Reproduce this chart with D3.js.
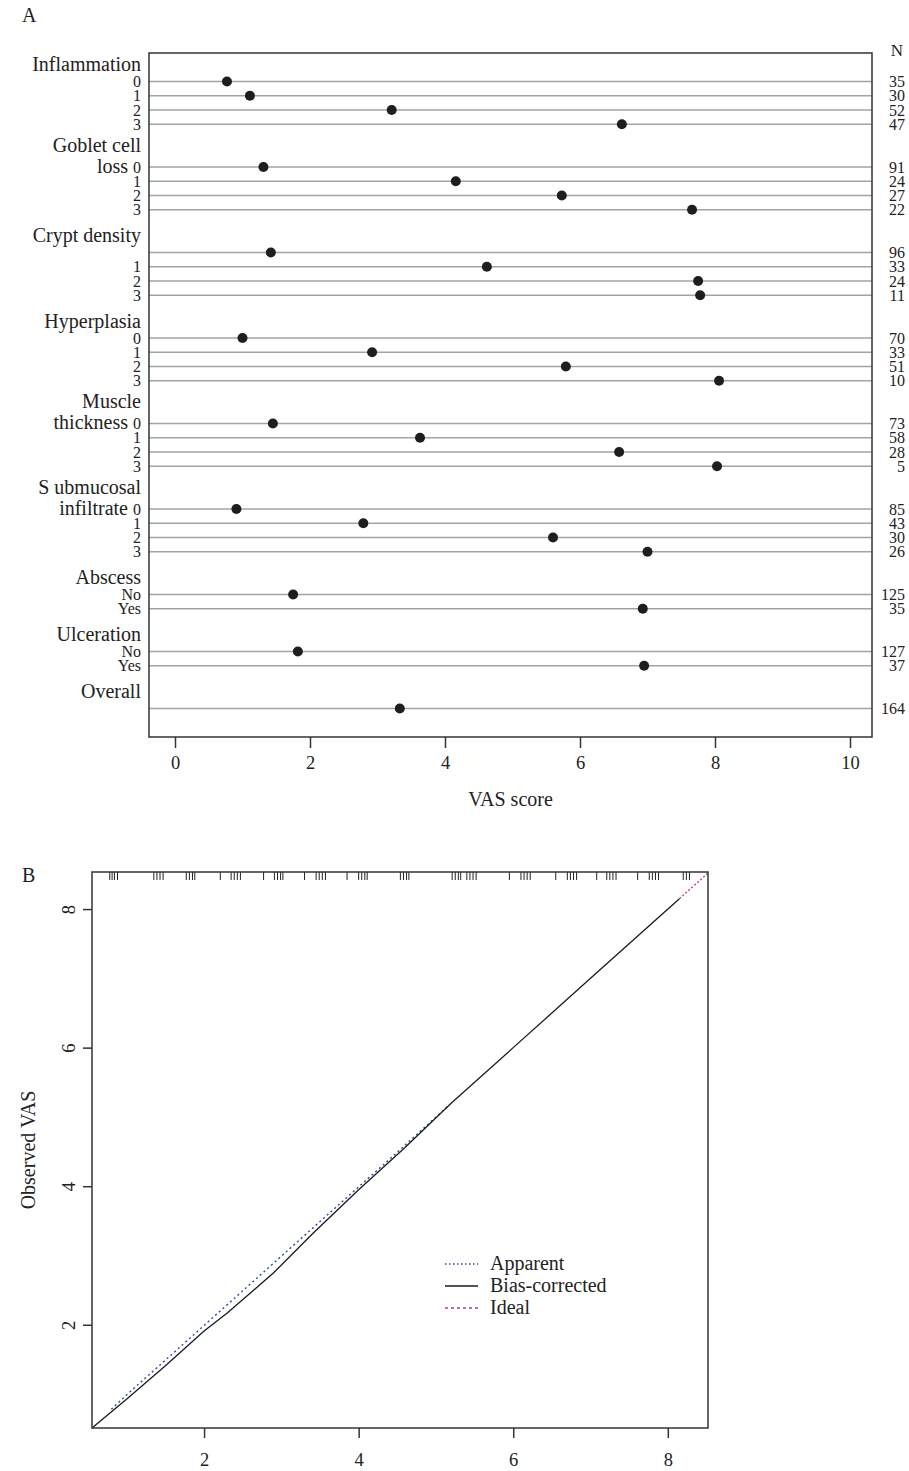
<!DOCTYPE html>
<html>
<head>
<meta charset="utf-8">
<script src="https://cdn.jsdelivr.net/npm/d3@7"></script>
<style>
  body { margin: 0; background: #fff; }
  svg { display: block; font-family: "Liberation Serif", "DejaVu Serif", serif; }
  text { fill: #222; }
</style>
</head>
<body>
<div id="chart"></div>
<script>
const width = 909;
const height = 1471;

// panel A data
const groupHeaders = [["Inflammation"], ["Goblet cell", "loss"], ["Crypt density"], ["Hyperplasia"],
  ["Muscle", "thickness"], ["S ubmucosal", "infiltrate"], ["Abscess"], ["Ulceration"], ["Overall"]];
// crypt density level 0 has no label in the original
const groupLevels = [["0", "1", "2", "3"], ["0", "1", "2", "3"], ["", "1", "2", "3"], ["0", "1", "2", "3"],
  ["0", "1", "2", "3"], ["0", "1", "2", "3"], ["No", "Yes"], ["No", "Yes"], [""]];
const meanVAS = [[0.77, 1.11, 3.21, 6.62], [1.31, 4.16, 5.73, 7.66], [1.42, 4.62, 7.75, 7.78],
  [1.0, 2.92, 5.79, 8.06], [1.45, 3.63, 6.58, 8.03], [0.91, 2.79, 5.6, 7.0],
  [1.75, 6.93], [1.82, 6.95], [3.33]];
const groupN = [[35, 30, 52, 47], [91, 24, 27, 22], [96, 33, 24, 11], [70, 33, 51, 10],
  [73, 58, 28, 5], [85, 43, 30, 26], [125, 35], [127, 37], [164]];
const vasTicks = [0, 2, 4, 6, 8, 10];

// panel B data
const apparentX = [0.8, 1.0, 1.5, 2.0, 2.5, 3.0, 3.5, 4.0, 4.5, 5.15];
const apparentY = [0.78, 0.99, 1.49, 1.99, 2.49, 2.99, 3.49, 3.99, 4.49, 5.15];
const biasX = [0.55, 1.0, 1.5, 2.0, 2.3, 2.9, 3.4, 4.0, 4.6, 5.2, 6.0, 7.0, 8.15];
const biasY = [0.51, 0.93, 1.41, 1.91, 2.17, 2.75, 3.31, 3.95, 4.56, 5.2, 6.0, 7.0, 8.15];
// only the top end of the ideal line shows past the other curves
const idealX = [8.15, 8.52];
const idealY = [8.15, 8.52];
const rugValues = [0.78, 0.81, 0.84, 0.88, 1.35, 1.39, 1.43, 1.47, 1.77, 1.81, 1.85, 1.88,
  2.21, 2.35, 2.39, 2.43, 2.47, 2.77, 2.91, 2.95, 2.99, 3.02, 3.30, 3.45, 3.49, 3.53, 3.57,
  3.85, 4.0, 4.04, 4.08, 4.11, 4.54, 4.58, 4.62, 4.65, 5.21, 5.25, 5.29, 5.32,
  5.40, 5.44, 5.48, 5.52, 5.95, 6.10, 6.14, 6.18, 6.22, 6.55, 6.70, 6.74, 6.78, 6.82,
  7.08, 7.21, 7.25, 7.29, 7.33, 7.61, 7.76, 7.80, 7.84, 7.88, 8.2, 8.24, 8.28];
const calTicks = [2, 4, 6, 8];
const legendLabels = ["Apparent", "Bias-corrected", "Ideal"];

const svg = d3.select("#chart").append("svg")
  .attr("width", width)
  .attr("height", height);

// ---------- panel A ----------
const boxA = {left: 149, right: 872, top: 53, bottom: 737};

// give each row a slot: header, levels, blank
let slot = 0;
const rows = [];
const headers = [];
groupHeaders.forEach((h, g) => {
  headers.push({lines: h, slot: slot, g: g});
  slot++;
  groupLevels[g].forEach((lev, i) => {
    rows.push({g: g, i: i, label: lev, value: meanVAS[g][i], n: groupN[g][i], slot: slot});
    slot++;
  });
  slot++;
});

const xA = d3.scaleLinear().domain([0, 10]).range([175, 850]);
const yA = d3.scaleLinear().domain([-1, 47]).range([boxA.top, boxA.bottom]);

svg.append("text").attr("x", 22).attr("y", 22).attr("font-size", 20).text("A");

const panelA = svg.append("g");

panelA.selectAll(".row-line")
  .data(rows)
  .enter()
  .append("line")
  .attr("x1", boxA.left).attr("x2", boxA.right)
  .attr("y1", d => yA(d.slot)).attr("y2", d => yA(d.slot))
  .attr("stroke", "#a3a3a3")
  .attr("stroke-width", 1.5);

panelA.selectAll(".dot")
  .data(rows)
  .enter()
  .append("circle")
  .attr("cx", d => xA(d.value))
  .attr("cy", d => yA(d.slot))
  .attr("r", 5)
  .attr("fill", "#1e1e1e");

// headers (single line, or first line of two)
panelA.selectAll(".header")
  .data(headers)
  .enter()
  .append("text")
  .attr("x", 141)
  .attr("y", d => d.lines.length > 1 ? yA(d.slot) - 1 : yA(d.slot) + 4)
  .attr("text-anchor", "end")
  .attr("font-size", 20)
  .text(d => d.lines[0]);

// level labels, with second header line in front of the first level
const levelText = panelA.selectAll(".level")
  .data(rows)
  .enter()
  .append("text")
  .attr("x", 141)
  .attr("y", d => yA(d.slot) + 5.5)
  .attr("text-anchor", "end");
levelText.append("tspan")
  .attr("font-size", 20)
  .text(d => (d.i === 0 && groupHeaders[d.g].length > 1) ? groupHeaders[d.g][1] + " " : "");
levelText.append("tspan")
  .attr("font-size", 16)
  .text(d => d.label);

// N column
svg.append("text").attr("x", 897).attr("y", 56).attr("font-size", 17)
  .attr("text-anchor", "middle").text("N");
panelA.selectAll(".n")
  .data(rows)
  .enter()
  .append("text")
  .attr("x", 905)
  .attr("y", d => yA(d.slot) + 5.5)
  .attr("text-anchor", "end")
  .attr("font-size", 16)
  .text(d => d.n);

panelA.append("rect")
  .attr("x", boxA.left).attr("y", boxA.top)
  .attr("width", boxA.right - boxA.left).attr("height", boxA.bottom - boxA.top)
  .attr("fill", "none").attr("stroke", "#333").attr("stroke-width", 1.5);

const xAxisA = d3.axisBottom(xA).tickValues(vasTicks).tickSize(11).tickPadding(8);
const gxA = panelA.append("g")
  .attr("transform", `translate(0, ${boxA.bottom})`)
  .call(xAxisA);
gxA.select(".domain").remove();
gxA.selectAll("line").attr("stroke", "#333").attr("stroke-width", 1.5);
gxA.selectAll("text").attr("font-size", 18.5).attr("font-family", "Liberation Serif").attr("fill", "#222");

svg.append("text")
  .attr("x", (boxA.left + boxA.right) / 2).attr("y", 806)
  .attr("text-anchor", "middle").attr("font-size", 20)
  .text("VAS score");

// ---------- panel B ----------
const boxB = {left: 92, right: 708, top: 872, bottom: 1428};
const xB = d3.scaleLinear().domain([0.55, 8.52]).range([boxB.left, boxB.right]);
const yB = d3.scaleLinear().domain([0.51, 8.535]).range([boxB.bottom, boxB.top]);

svg.append("text").attr("x", 22).attr("y", 882).attr("font-size", 20).text("B");

const panelB = svg.append("g");

const line = d3.line().x(d => xB(d[0])).y(d => yB(d[1]));

panelB.append("path")
  .datum(idealX.map((v, i) => [v, idealY[i]]))
  .attr("d", line)
  .attr("fill", "none")
  .attr("stroke", "#b03a8c")
  .attr("stroke-width", 1.3)
  .attr("stroke-dasharray", "2,2");

panelB.append("path")
  .datum(apparentX.map((v, i) => [v, apparentY[i]]))
  .attr("d", line)
  .attr("fill", "none")
  .attr("stroke", "#22509a")
  .attr("stroke-width", 1.4)
  .attr("stroke-dasharray", "2,3");

panelB.append("path")
  .datum(biasX.map((v, i) => [v, biasY[i]]))
  .attr("d", line)
  .attr("fill", "none")
  .attr("stroke", "#1a1a1a")
  .attr("stroke-width", 1.3);

panelB.selectAll(".rug")
  .data(rugValues)
  .enter()
  .append("line")
  .attr("x1", d => xB(d)).attr("x2", d => xB(d))
  .attr("y1", boxB.top).attr("y2", boxB.top + 8)
  .attr("stroke", "#222")
  .attr("stroke-width", 1);

panelB.append("rect")
  .attr("x", boxB.left).attr("y", boxB.top)
  .attr("width", boxB.right - boxB.left).attr("height", boxB.bottom - boxB.top)
  .attr("fill", "none").attr("stroke", "#333").attr("stroke-width", 1.5);

const gxB = panelB.append("g")
  .attr("transform", `translate(0, ${boxB.bottom})`)
  .call(d3.axisBottom(xB).tickValues(calTicks).tickSize(10).tickPadding(15));
gxB.select(".domain").remove();
gxB.selectAll("line").attr("stroke", "#333").attr("stroke-width", 1.5);
gxB.selectAll("text").attr("font-size", 18.5).attr("font-family", "Liberation Serif").attr("fill", "#222");

const gyB = panelB.append("g")
  .attr("transform", `translate(${boxB.left}, 0)`)
  .call(d3.axisLeft(yB).tickValues(calTicks).tickSize(9));
gyB.select(".domain").remove();
gyB.selectAll("line").attr("stroke", "#333").attr("stroke-width", 1.5);
gyB.selectAll("text")
  .attr("x", null).attr("dy", null)
  .attr("text-anchor", "middle")
  .attr("transform", "translate(-17,0) rotate(-90)")
  .attr("font-size", 18.5).attr("font-family", "Liberation Serif").attr("fill", "#222");

svg.append("text")
  .attr("transform", `translate(35, ${(boxB.top + boxB.bottom) / 2}) rotate(-90)`)
  .attr("text-anchor", "middle").attr("font-size", 20)
  .text("Observed VAS");

// legend
const legendStyles = [
  {stroke: "#22509a", dash: "1.5,2.5"},
  {stroke: "#1a1a1a", dash: null},
  {stroke: "#b03a8c", dash: "3,3"}
];
const legend = panelB.append("g");
legendLabels.forEach((lab, i) => {
  const ly = 1264 + i * 22;
  legend.append("line")
    .attr("x1", 445).attr("x2", 478)
    .attr("y1", ly).attr("y2", ly)
    .attr("stroke", legendStyles[i].stroke)
    .attr("stroke-width", 1.3)
    .attr("stroke-dasharray", legendStyles[i].dash);
  legend.append("text")
    .attr("x", 490).attr("y", ly + 6)
    .attr("font-size", 20)
    .text(lab);
});
</script>
</body>
</html>
